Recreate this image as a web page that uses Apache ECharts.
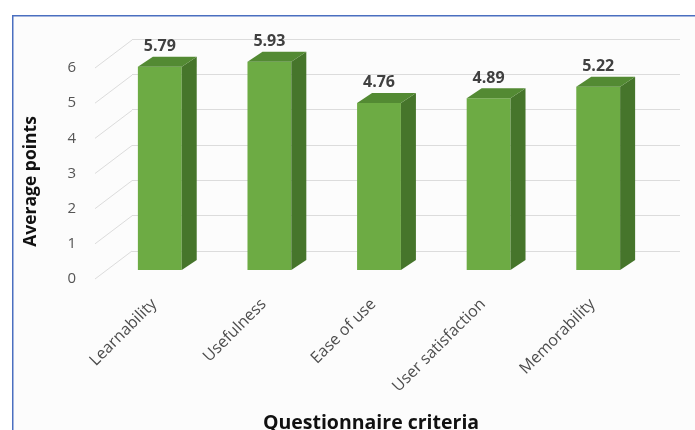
<!DOCTYPE html>
<html>
<head>
<meta charset="utf-8">
<script src="https://cdn.jsdelivr.net/npm/echarts@6/dist/echarts.min.js"></script>
<style>
html,body{margin:0;padding:0;background:#ffffff;}
#chart{width:695px;height:430px;}
</style>
</head>
<body>
<div id="chart"></div>
<script>
const categories = ['Learnability', 'Usefulness', 'Ease of use', 'User satisfaction', 'Memorability'];
const values = [5.79, 5.93, 4.76, 4.89, 5.22];
const yTicks = [0, 1, 2, 3, 4, 5, 6];
const yAxisTitle = 'Average points';
const xAxisTitle = 'Questionnaire criteria';

const DEPTH_X = 15, DEPTH_Y = -10;     // bar depth (3D look)
const WALL_X = 37, WALL_Y = -28;       // floor/wall depth

const chart = echarts.init(document.getElementById('chart'), null, {renderer: 'canvas'});

const option = {
  backgroundColor: '#ffffff',
  animation: false,
  graphic: [
    {type: 'rect', left: 12, top: 15, z: -10,
     shape: {width: 700, height: 430},
     style: {fill: '#fcfcfc', stroke: '#4a6fc0', lineWidth: 1.5}}
  ],
  grid: [
    {left: 132, right: 15, top: 39, bottom: 179, outerBoundsMode: 'none', containLabel: false},   // back wall
    {left: 105, right: 42, top: 59.4, bottom: 160, outerBoundsMode: 'none', containLabel: false}, // bars
    {left: 95, width: 1, top: 68, bottom: 151, outerBoundsMode: 'none', containLabel: false}      // tick labels
  ],
  xAxis: [
    {gridIndex: 0, type: 'value', min: 0, max: 1, show: false},
    {gridIndex: 1, type: 'category', data: categories,
     axisLine: {show: false}, axisTick: {show: false},
     axisLabel: {rotate: 45, margin: 26, color: '#4d4d4d', fontSize: 16,
                 fontFamily: 'Open Sans', interval: 0, padding: [0, 8, 0, 0]},
     name: xAxisTitle, nameLocation: 'middle', nameGap: 143,
     nameTextStyle: {fontSize: 19.5, fontWeight: 'bold', color: '#111111',
                     fontFamily: 'Open Sans', padding: [0, 16, 0, 0]}},
    {gridIndex: 2, type: 'value', min: 0, max: 1, show: false}
  ],
  yAxis: [
    {gridIndex: 0, type: 'value', min: 0, max: 6, interval: 1,
     axisLine: {show: false}, axisTick: {show: false}, axisLabel: {show: false},
     splitLine: {show: true, lineStyle: {color: '#dcdcdc', width: 1}}},
    {gridIndex: 1, type: 'value', min: 0, max: 6, interval: 1, show: false,
     splitLine: {show: false}},
    {gridIndex: 2, type: 'value', min: 0, max: 6, interval: 1,
     axisLine: {show: false}, axisTick: {show: false}, splitLine: {show: false},
     axisLabel: {margin: 19, color: '#555555', fontSize: 15, fontFamily: 'Open Sans'},
     name: yAxisTitle, nameLocation: 'middle', nameGap: 55, nameRotate: 90,
     nameTextStyle: {fontSize: 17.5, fontWeight: 'bold', color: '#111111',
                     fontFamily: 'Open Sans', padding: [0, 16, 0, 0]}}
  ],
  series: [
    {
      type: 'custom', name: 'floor', xAxisIndex: 2, yAxisIndex: 2, z: 1,
      data: yTicks.map(t => [0, t]),
      renderItem: function (params, api) {
        const p = api.coord([0, api.value(1)]);
        return {type: 'line',
          shape: {x1: p[0], y1: p[1], x2: p[0] + WALL_X, y2: p[1] + WALL_Y},
          style: {stroke: '#dcdcdc', lineWidth: 1}};
      }
    },
    {
      type: 'custom', name: 'Average points', xAxisIndex: 1, yAxisIndex: 1, z: 5,
      data: values.map((v, i) => [i, v]),
      renderItem: function (params, api) {
        const i = api.value(0), v = api.value(1);
        const base = api.coord([i, 0]);
        const top = api.coord([i, v]);
        const w = api.size([1, 0])[0] * 0.4;
        const x0 = base[0] - w / 2, x1 = base[0] + w / 2;
        return {type: 'group', children: [
          {type: 'rect', shape: {x: x0, y: top[1], width: w, height: base[1] - top[1]},
           style: {fill: '#6dab44'}},
          {type: 'polygon', shape: {points: [[x1, top[1]], [x1 + DEPTH_X, top[1] + DEPTH_Y],
                                              [x1 + DEPTH_X, base[1] + DEPTH_Y], [x1, base[1]]]},
           style: {fill: '#46752b'}},
          {type: 'polygon', shape: {points: [[x0, top[1]], [x0 + DEPTH_X, top[1] + DEPTH_Y],
                                              [x1 + DEPTH_X, top[1] + DEPTH_Y], [x1, top[1]]]},
           style: {fill: '#538a33'}},
          {type: 'text', x: base[0], y: top[1] - 20,
           style: {text: v.toFixed(2), align: 'center', verticalAlign: 'middle',
                   fill: '#404040', fontSize: 16, fontWeight: 'bold', fontFamily: 'Open Sans'}}
        ]};
      }
    }
  ]
};
chart.setOption(option);
</script>
</body>
</html>
